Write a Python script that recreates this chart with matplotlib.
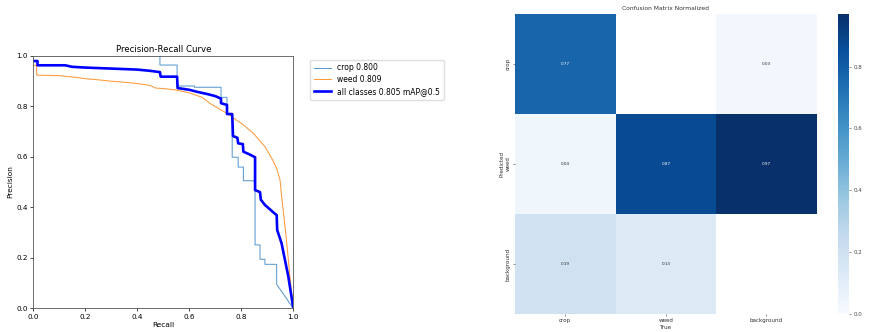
import numpy as np
import matplotlib
matplotlib.use("Agg")
import matplotlib.pyplot as plt
import seaborn as sns

# ---- Precision-recall data ----
crop_recall = [0.0, 0.487, 0.487, 0.553, 0.553, 0.62, 0.62, 0.722, 0.722, 0.745, 0.745,
               0.765, 0.765, 0.788, 0.788, 0.808, 0.808, 0.849, 0.849, 0.853, 0.853,
               0.872, 0.872, 0.891, 0.891, 0.936, 0.936, 1.0]
crop_precision = [1.0, 1.0, 0.963, 0.963, 0.88, 0.88, 0.875, 0.875, 0.835, 0.835, 0.769,
                  0.769, 0.598, 0.598, 0.559, 0.559, 0.505, 0.505, 0.50, 0.50, 0.251,
                  0.251, 0.194, 0.194, 0.174, 0.174, 0.095, 0.0]

weed_recall = [0.0, 0.013, 0.013, 0.1, 0.167, 0.2, 0.245, 0.3, 0.35, 0.4, 0.45, 0.47,
               0.5, 0.55, 0.6, 0.65, 0.68, 0.744, 0.808, 0.846, 0.891, 0.917, 0.936,
               0.949, 0.955, 0.964, 0.975, 0.987, 1.0]
weed_precision = [0.962, 0.962, 0.923, 0.921, 0.914, 0.909, 0.905, 0.899, 0.895, 0.89,
                  0.882, 0.872, 0.87, 0.864, 0.853, 0.835, 0.811, 0.772, 0.726, 0.693,
                  0.64, 0.594, 0.554, 0.508, 0.442, 0.363, 0.257, 0.125, 0.0]

all_recall = [0.0, 0.016, 0.016, 0.123, 0.149, 0.2, 0.3, 0.4, 0.45, 0.487, 0.49, 0.553,
              0.555, 0.6, 0.63, 0.67, 0.7, 0.722, 0.722, 0.745, 0.745, 0.765, 0.768,
              0.785, 0.788, 0.806, 0.808, 0.83, 0.853, 0.853, 0.872, 0.875, 0.891,
              0.91, 0.925, 0.936, 0.938, 0.955, 0.968, 0.981, 1.0]
all_precision = [0.979, 0.979, 0.962, 0.962, 0.956, 0.953, 0.949, 0.945, 0.94, 0.935,
                 0.917, 0.917, 0.872, 0.865, 0.857, 0.848, 0.84, 0.83, 0.812, 0.805,
                 0.769, 0.769, 0.682, 0.675, 0.653, 0.65, 0.62, 0.61, 0.598, 0.468,
                 0.46, 0.43, 0.409, 0.392, 0.378, 0.369, 0.31, 0.257, 0.191, 0.125, 0.0]

class_ap = {"crop": 0.800, "weed": 0.809}
map50 = 0.805

# ---- Normalized confusion matrix (rows: predicted, cols: true) ----
cm_labels = ["crop", "weed", "background"]
cm_crop = [0.77, np.nan, 0.03]
cm_weed = [0.04, 0.87, 0.97]
cm_background = [0.19, 0.13, np.nan]

W, H = 872, 332
fig = plt.figure(figsize=(W / 100, H / 100), dpi=100)


def box(x0, y0, x1, y1):
    """Pixel box (top-left origin) to figure fraction rect."""
    return [x0 / W, 1 - y1 / H, (x1 - x0) / W, (y1 - y0) / H]


# ---- Precision-recall curve ----
ax = fig.add_axes(box(33.3, 55.7, 293.3, 308.3))
ax.plot(crop_recall, crop_precision, color="#5b9bd0", lw=0.75,
        label=f"crop {class_ap['crop']:.3f}")
ax.plot(weed_recall, weed_precision, color="#ff9a3c", lw=0.75,
        label=f"weed {class_ap['weed']:.3f}")
ax.plot(all_recall, all_precision, color="blue", lw=1.9,
        label=f"all classes {map50:.3f} mAP@0.5")
ax.set_xlim(0, 1)
ax.set_ylim(0, 1)
ax.set_xlabel("Recall", fontsize=5.3, labelpad=1.5)
ax.set_ylabel("Precision", fontsize=5.3, labelpad=2)
ax.set_title("Precision-Recall Curve", fontsize=6.2, pad=2.5)
ax.tick_params(labelsize=5.2, width=0.5, length=2.5, pad=1.5)
for s in ax.spines.values():
    s.set_linewidth(0.6)
    s.set_color("#555555")
ax.legend(loc="upper left", bbox_to_anchor=(1.05, 1.0), fontsize=5.5,
          frameon=True, handlelength=2.2, borderpad=0.5, labelspacing=0.35,
          framealpha=1, edgecolor="#dddddd")

# ---- Confusion matrix heatmap ----
hax = fig.add_axes(box(515, 14, 816.7, 314))
cax = fig.add_axes(box(838.3, 14, 849.3, 314))
cm = np.array([cm_crop, cm_weed, cm_background])
sns.heatmap(cm, ax=hax, cbar_ax=cax, annot=True, fmt=".2f", cmap="Blues",
            vmin=0.0, annot_kws={"size": 3.0},
            xticklabels=cm_labels, yticklabels=cm_labels)
hax.set_facecolor((1, 1, 1))
hax.set_title("Confusion Matrix Normalized", fontsize=4.3, pad=3, color="#333333")
hax.set_xlabel("True", fontsize=4.1, labelpad=1, color="#333333")
hax.set_ylabel("Predicted", fontsize=4.1, labelpad=1, color="#333333")
hax.tick_params(labelsize=4.1, length=1.5, width=0.4, pad=1.5, colors="#333333")
plt.setp(hax.get_yticklabels(), rotation=90, va="center")
plt.setp(hax.get_xticklabels(), rotation=0)
cax.tick_params(labelsize=4.0, length=1.5, width=0.4, pad=1.5, colors="#444444")
cax.yaxis.set_major_locator(matplotlib.ticker.MultipleLocator(0.2))
for s in cax.spines.values():
    s.set_visible(False)

fig.savefig("out.png", dpi=100)
